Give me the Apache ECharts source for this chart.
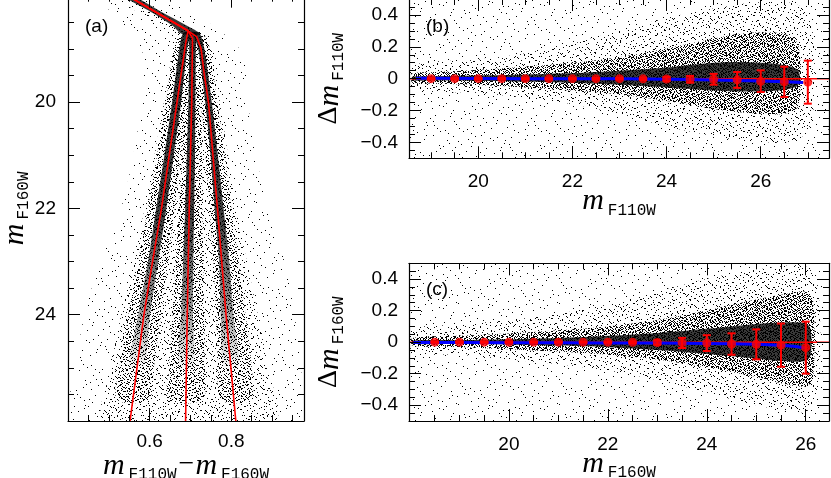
<!DOCTYPE html>
<html>
<head>
<meta charset="utf-8">
<script src="https://cdn.jsdelivr.net/npm/echarts@6/dist/echarts.min.js"></script>
<style>
html, body { margin: 0; padding: 0; background: #fff; }
#main { width: 831px; height: 478px; }
</style>
</head>
<body>
<div id="main"></div>
<script>
// ---------- panel (a): CMD ----------
// fiducial lines (colour, magnitude)
var fidLeftMag = [18.0, 18.66, 18.9, 20, 21, 22, 23, 24, 26];
var fidLeftCol = [0.546, 0.694, 0.688, 0.667, 0.648, 0.629, 0.607, 0.586, 0.552];
var fidMidMag = [18.0, 18.66, 18.8, 20, 22, 24, 26];
var fidMidCol = [0.546, 0.694, 0.705, 0.703, 0.697, 0.692, 0.688];
var fidRightMag = [18.0, 18.66, 18.77, 19, 19.5, 20, 22, 24, 26];
var fidRightCol = [0.546, 0.694, 0.715, 0.726, 0.734, 0.744, 0.766, 0.787, 0.811];

// star density envelopes (magnitude, blue edge, red edge)
var topMag = [18.0, 18.3, 18.55, 18.72];
var topLo = [0.534, 0.602, 0.654, 0.68];
var topHi = [0.558, 0.628, 0.688, 0.724];
var coreMag = [18.7, 19, 20, 21, 22, 23, 24, 25];
var coreLeftLo = [0.682, 0.673, 0.655, 0.636, 0.616, 0.596, 0.572, 0.55];
var coreLeftHi = [0.698, 0.692, 0.677, 0.659, 0.641, 0.621, 0.601, 0.585];
var coreMidLo = [0.697, 0.697, 0.695, 0.691, 0.687, 0.682, 0.677, 0.672];
var coreMidHi = [0.713, 0.713, 0.712, 0.711, 0.709, 0.707, 0.706, 0.707];
var coreRightLo = [0.708, 0.719, 0.736, 0.749, 0.759, 0.77, 0.774, 0.782];
var coreRightHi = [0.722, 0.734, 0.752, 0.767, 0.781, 0.795, 0.805, 0.818];
var wideMag = [18.8, 20, 21, 22, 23, 24, 25, 25.6];
var wideLeftLo = [0.668, 0.64, 0.618, 0.596, 0.572, 0.548, 0.526, 0.52];
var wideLeftHi = [0.704, 0.69, 0.676, 0.661, 0.645, 0.628, 0.61, 0.598];
var wideMidLo = [0.692, 0.686, 0.68, 0.672, 0.664, 0.656, 0.648, 0.645];
var wideMidHi = [0.722, 0.726, 0.728, 0.729, 0.731, 0.733, 0.735, 0.73];
var wideRightLo = [0.708, 0.726, 0.737, 0.747, 0.756, 0.763, 0.768, 0.772];
var wideRightHi = [0.74, 0.765, 0.784, 0.8, 0.818, 0.835, 0.85, 0.848];
var haloMag = [18.0, 18.4, 18.7, 19, 20, 21, 22, 23, 24, 25, 26];
var haloLo = [0.52, 0.588, 0.652, 0.655, 0.635, 0.612, 0.588, 0.56, 0.53, 0.505, 0.49];
var haloHi = [0.572, 0.645, 0.735, 0.752, 0.772, 0.792, 0.812, 0.838, 0.865, 0.89, 0.905];
var fieldMag = [18.0, 19, 20, 21, 22, 23, 24, 25, 26];
var fieldLo = [0.48, 0.58, 0.58, 0.56, 0.53, 0.48, 0.44, 0.42, 0.41];
var fieldHi = [0.62, 0.82, 0.84, 0.86, 0.89, 0.93, 0.955, 0.97, 0.975];

// ---------- panel (b): F110W residuals ----------
var bMag = [19, 19.5, 20, 20.5, 21, 21.5, 22, 22.5, 23, 23.5, 24, 24.5, 25, 25.5, 26, 26.5, 27];
var bMean = [0, 0, 0, 0, 0, 0, 0, 0, 0, -0.001, -0.002, -0.004, -0.004, -0.008, -0.016, -0.02, -0.022];
var bSig = [0.003, 0.003, 0.003, 0.003, 0.003, 0.003, 0.003, 0.004, 0.005, 0.007, 0.012, 0.021, 0.034, 0.05, 0.068, 0.095, 0.135];
var bFitMag = [18.68, 19, 20, 21, 22, 23, 24, 24.5, 25, 25.5, 26, 26.5, 26.9];
var bFitVal = [0.002, 0.002, 0.001, 0, 0, -0.001, -0.003, -0.005, -0.008, -0.011, -0.015, -0.02, -0.024];
var bCoreMag = [18.6, 19, 20, 21, 22, 23, 24, 24.5, 25, 25.5, 26, 26.5, 26.8];
var bCoreLo = [-0.01, -0.012, -0.015, -0.02, -0.027, -0.038, -0.055, -0.065, -0.075, -0.08, -0.08, -0.07, -0.04];
var bCoreHi = [0.012, 0.015, 0.02, 0.026, 0.035, 0.05, 0.07, 0.085, 0.1, 0.105, 0.1, 0.085, 0.05];
var bMidMag = [18.6, 19, 20, 21, 22, 23, 24, 25, 25.5, 26, 26.5, 26.8];
var bMidLo = [-0.025, -0.03, -0.04, -0.055, -0.075, -0.1, -0.14, -0.19, -0.21, -0.22, -0.22, -0.17];
var bMidHi = [0.03, 0.04, 0.055, 0.075, 0.1, 0.135, 0.19, 0.25, 0.28, 0.29, 0.28, 0.21];
var bLightMag = [18.6, 20, 21, 22, 23, 24, 25, 26, 26.8, 27.1];
var bLightLo = [-0.06, -0.09, -0.12, -0.16, -0.22, -0.3, -0.36, -0.4, -0.38, -0.25];
var bLightHi = [0.08, 0.12, 0.16, 0.22, 0.3, 0.38, 0.44, 0.48, 0.46, 0.3];
var bFieldMag = [18.6, 20, 22, 24, 26, 27.3];
var bFieldLo = [-0.5, -0.5, -0.5, -0.5, -0.5, -0.5];
var bFieldHi = [0.5, 0.5, 0.5, 0.5, 0.5, 0.5];

// ---------- panel (c): F160W residuals ----------
var cMag = [18.5, 19, 19.5, 20, 20.5, 21, 21.5, 22, 22.5, 23, 23.5, 24, 24.5, 25, 25.5, 26];
var cMean = [0, 0, 0, 0, 0, 0, 0, 0, -0.001, -0.002, -0.005, -0.006, -0.012, -0.014, -0.019, -0.035];
var cSig = [0.003, 0.003, 0.003, 0.003, 0.003, 0.003, 0.003, 0.004, 0.006, 0.014, 0.032, 0.05, 0.068, 0.095, 0.137, 0.165];
var cFitMag = [18.07, 19, 20, 21, 22, 23, 24, 24.5, 25, 25.5, 25.8, 26];
var cFitVal = [-0.002, -0.003, -0.004, -0.004, -0.005, -0.006, -0.008, -0.01, -0.014, -0.02, -0.028, -0.038];
var cCoreMag = [18.05, 19, 20, 21, 22, 23, 24, 24.5, 25, 25.5, 26, 26.1];
var cCoreLo = [-0.01, -0.012, -0.016, -0.022, -0.032, -0.05, -0.075, -0.09, -0.105, -0.12, -0.12, -0.08];
var cCoreHi = [0.01, 0.013, 0.018, 0.026, 0.04, 0.058, 0.085, 0.1, 0.115, 0.125, 0.12, 0.08];
var cMidMag = [18.05, 19, 20, 21, 22, 23, 24, 25, 25.5, 26, 26.15];
var cMidLo = [-0.022, -0.03, -0.045, -0.06, -0.08, -0.11, -0.16, -0.22, -0.26, -0.28, -0.23];
var cMidHi = [0.026, 0.04, 0.055, 0.075, 0.1, 0.14, 0.2, 0.27, 0.3, 0.32, 0.26];
var cLightMag = [18.05, 19, 20, 21, 22, 23, 24, 25, 26, 26.25];
var cLightLo = [-0.06, -0.08, -0.11, -0.14, -0.18, -0.24, -0.32, -0.4, -0.44, -0.3];
var cLightHi = [0.08, 0.11, 0.14, 0.18, 0.24, 0.32, 0.4, 0.46, 0.48, 0.35];
var cFieldMag = [18.05, 20, 22, 24, 26, 26.3];
var cFieldLo = [-0.5, -0.5, -0.5, -0.5, -0.5, -0.5];
var cFieldHi = [0.5, 0.5, 0.5, 0.5, 0.5, 0.5];

// ---------- ticks ----------
var aColMajor = [0.6, 0.8];
var aColMinor = [0.45, 0.5, 0.55, 0.65, 0.7, 0.75, 0.85, 0.9, 0.95];
var aMagMajor = [20, 22, 24];
var aMagMinor = [18.5, 19, 19.5, 20.5, 21, 21.5, 22.5, 23, 23.5, 24.5, 25, 25.5];
var bMagMajor = [20, 22, 24, 26];
var bMagMinor = [19, 19.5, 20.5, 21, 21.5, 22.5, 23, 23.5, 24.5, 25, 25.5, 26.5, 27];
var cMagMajor = [20, 22, 24, 26];
var cMagMinor = [18.5, 19, 19.5, 20.5, 21, 21.5, 22.5, 23, 23.5, 24.5, 25, 25.5, 26.5];
var dMajor = [-0.4, -0.2, 0, 0.2, 0.4];
var dMinor = [-0.45, -0.35, -0.3, -0.25, -0.15, -0.1, -0.05, 0.05, 0.1, 0.15, 0.25, 0.3, 0.35, 0.45];

var rich = {
    m: { fontFamily: 'Liberation Serif', fontStyle: 'italic', fontSize: 30, color: '#000', lineHeight: 30, verticalAlign: 'top' },
    d: { fontFamily: 'Liberation Serif', fontSize: 28, color: '#000', lineHeight: 30, verticalAlign: 'top' },
    s: { fontFamily: 'Liberation Mono', fontSize: 16, color: '#000', lineHeight: 16, padding: [16, 0, 0, 4], verticalAlign: 'top' },
    o: { fontFamily: 'Liberation Serif', fontSize: 28, color: '#000', lineHeight: 30, padding: [0, 1, 0, 2], verticalAlign: 'top' }
};

function fmt(v) {
    return String(v).replace('-', '\u2212');
}

function halton(i, b) {
    var f = 1, r = 0;
    while (i > 0) {
        f /= b;
        r += f * (i % b);
        i = Math.floor(i / b);
    }
    return r;
}

// stippled fill that looks like a cloud of single-pixel stars
function stipple(count, seed, size) {
    var c = document.createElement('canvas');
    c.width = size;
    c.height = size;
    var g = c.getContext('2d');
    g.fillStyle = '#000';
    for (var i = seed; i < seed + count; i++) {
        g.fillRect(Math.floor(halton(i, 2) * size), Math.floor(halton(i, 3) * size), 1, 1);
    }
    return { image: c, repeat: 'repeat' };
}

// four axes per dimension: main ticks + minor ticks, on both sides
function axisSet(dim, grid, min, max, major, minor, o) {
    var sides = dim === 'x' ? ['bottom', 'top'] : ['left', 'right'];
    var list = [];
    sides.forEach(function (side, k) {
        [major, minor].forEach(function (vals, j) {
            var main = k === 0 && j === 0;
            list.push({
                type: 'value', gridIndex: grid, min: min, max: max, position: side,
                inverse: !!o.inverse, z: 10,
                axisLine: { show: j === 0, onZero: false, lineStyle: { color: '#000', width: 1.2 } },
                axisTick: { show: true, inside: true, length: j === 0 ? 12 : 6, customValues: vals,
                    lineStyle: { color: '#000', width: 1 } },
                axisLabel: main ? { show: true, customValues: major, formatter: fmt, margin: o.margin,
                    fontFamily: 'Liberation Sans', fontSize: 19, color: '#000' } : { show: false },
                splitLine: { show: false },
                name: main ? o.name : '',
                nameLocation: 'middle', nameGap: o.nameGap, nameRotate: dim === 'y' ? 90 : 0,
                nameMoveOverlap: false,
                nameTextStyle: { rich: rich }
            });
        });
    });
    return list;
}

function pairs(xs, ys) {
    return xs.map(function (x, i) { return [x, ys[i]]; });
}

// filled envelope drawn through the axes; swap = true when the band runs along y
function band(ax, xs, lo, hi, fill, swap) {
    return {
        type: 'custom', xAxisIndex: ax, yAxisIndex: ax, silent: true, z: 1,
        data: xs.map(function (x, i) { return [x, lo[i], hi[i]]; }),
        renderItem: function (params, api) {
            if (params.dataIndex !== 0) return null;
            var pts = [];
            var i;
            for (i = 0; i < xs.length; i++) {
                pts.push(api.coord(swap ? [hi[i], xs[i]] : [xs[i], hi[i]]));
            }
            for (i = xs.length - 1; i >= 0; i--) {
                pts.push(api.coord(swap ? [lo[i], xs[i]] : [xs[i], lo[i]]));
            }
            return { type: 'polygon', shape: { points: pts, smooth: 0.3 }, style: { fill: fill } };
        },
        clip: true
    };
}

function errBars(ax, xs, mean, sig) {
    return {
        type: 'custom', xAxisIndex: ax, yAxisIndex: ax, silent: true, z: 5,
        data: xs.map(function (x, i) { return [x, mean[i], sig[i]]; }),
        renderItem: function (params, api) {
            var x = api.value(0), m = api.value(1), s = api.value(2);
            var top = api.coord([x, m + s]);
            var bot = api.coord([x, m - s]);
            var st = { stroke: '#ff0000', lineWidth: 2 };
            return {
                type: 'group',
                children: [
                    { type: 'line', shape: { x1: top[0], y1: top[1], x2: bot[0], y2: bot[1] }, style: st },
                    { type: 'line', shape: { x1: top[0] - 4, y1: top[1], x2: top[0] + 4, y2: top[1] }, style: st },
                    { type: 'line', shape: { x1: bot[0] - 4, y1: bot[1], x2: bot[0] + 4, y2: bot[1] }, style: st }
                ]
            };
        }
    };
}

function lineS(ax, data, color, width, z) {
    return {
        type: 'line', xAxisIndex: ax, yAxisIndex: ax, data: data, showSymbol: false, silent: true,
        lineStyle: { color: color, width: width }, z: z, animation: false
    };
}

function points(ax, xs, ys) {
    return {
        type: 'scatter', xAxisIndex: ax, yAxisIndex: ax, data: pairs(xs, ys), symbol: 'circle',
        symbolSize: 9, itemStyle: { color: '#ff0000' }, z: 6, silent: true
    };
}

var faint = stipple(200, 17, 101);
var light = stipple(700, 5003, 101);
var medium = stipple(1900, 20011, 101);
var heavy = stipple(3600, 60013, 101);
var dense = 'rgba(0,0,0,0.78)';
// sequence cores fade out towards the faint end
var fading = {
    type: 'linear', x: 0, y: 0, x2: 0, y2: 1,
    colorStops: [
        { offset: 0, color: 'rgba(0,0,0,0.8)' },
        { offset: 0.55, color: 'rgba(0,0,0,0.75)' },
        { offset: 0.82, color: 'rgba(0,0,0,0.4)' },
        { offset: 1, color: 'rgba(0,0,0,0)' }
    ]
};

var xAxes = [].concat(
    axisSet('x', 0, 0.4, 0.978, aColMajor, aColMinor,
        { margin: 11, nameGap: 30, name: '{m|m}{s|F110W}{o|\u2212}{m|m}{s|F160W}' }),
    axisSet('x', 1, 18.53, 27.45, bMagMajor, bMagMinor,
        { margin: 14, nameGap: 28, name: '{m|m}{s|F110W}' }),
    axisSet('x', 2, 17.98, 26.47, cMagMajor, cMagMinor,
        { margin: 14, nameGap: 28, name: '{m|m}{s|F160W}' })
);
var yAxes = [].concat(
    axisSet('y', 0, 18, 26, aMagMajor, aMagMinor,
        { inverse: true, margin: 12, nameGap: 38, name: '{m|m}{s|F160W}' }),
    axisSet('y', 1, -0.5, 0.5, dMajor, dMinor,
        { margin: 11, nameGap: 64, name: '{d|\u0394}{m|m}{s|F110W}' }),
    axisSet('y', 2, -0.5, 0.5, dMajor, dMinor,
        { margin: 11, nameGap: 64, name: '{d|\u0394}{m|m}{s|F160W}' })
);

var labelStyle = { fontFamily: 'Liberation Sans', fontSize: 19, fontWeight: 'normal', color: '#000' };

var option = {
    animation: false,
    backgroundColor: '#fff',
    grid: [
        { left: 68, top: -4.3, width: 236, height: 425.3, outerBoundsMode: 'none', containLabel: false },
        { left: 409, top: -1, width: 420, height: 159.3, outerBoundsMode: 'none', containLabel: false },
        { left: 409, top: 263.3, width: 420, height: 157.7, outerBoundsMode: 'none', containLabel: false }
    ],
    title: [
        { text: '(a)', left: 80, top: 12, textStyle: labelStyle },
        { text: '(b)', left: 421, top: 12, textStyle: labelStyle },
        { text: '(c)', left: 421, top: 275, textStyle: labelStyle }
    ],
    xAxis: xAxes,
    yAxis: yAxes,
    series: [
        // panel a
        band(0, fieldMag, fieldLo, fieldHi, faint, true),
        band(0, haloMag, haloLo, haloHi, light, true),
        band(0, wideMag, wideLeftLo, wideLeftHi, medium, true),
        band(0, wideMag, wideMidLo, wideMidHi, medium, true),
        band(0, wideMag, wideRightLo, wideRightHi, medium, true),
        band(0, topMag, topLo, topHi, dense, true),
        band(0, coreMag, coreLeftLo, coreLeftHi, fading, true),
        band(0, coreMag, coreMidLo, coreMidHi, fading, true),
        band(0, coreMag, coreRightLo, coreRightHi, fading, true),
        lineS(0, pairs(fidLeftCol, fidLeftMag), '#ff0000', 1.6, 4),
        lineS(0, pairs(fidMidCol, fidMidMag), '#ff0000', 1.6, 4),
        lineS(0, pairs(fidRightCol, fidRightMag), '#ff0000', 1.6, 4),
        // panel b
        band(4, bFieldMag, bFieldLo, bFieldHi, faint),
        band(4, bLightMag, bLightLo, bLightHi, light),
        band(4, bMidMag, bMidLo, bMidHi, heavy),
        band(4, bCoreMag, bCoreLo, bCoreHi, dense),
        lineS(4, [[18.53, 0], [27.45, 0]], '#ff0000', 1.5, 3),
        lineS(4, pairs(bFitMag, bFitVal), '#0000ff', 3, 4),
        errBars(4, bMag, bMean, bSig),
        points(4, bMag, bMean),
        // panel c
        band(8, cFieldMag, cFieldLo, cFieldHi, faint),
        band(8, cLightMag, cLightLo, cLightHi, light),
        band(8, cMidMag, cMidLo, cMidHi, heavy),
        band(8, cCoreMag, cCoreLo, cCoreHi, dense),
        lineS(8, [[17.98, 0], [26.47, 0]], '#ff0000', 1.5, 3),
        lineS(8, pairs(cFitMag, cFitVal), '#0000ff', 3, 4),
        errBars(8, cMag, cMean, cSig),
        points(8, cMag, cMean)
    ]
};

var chart = echarts.init(document.getElementById('main'));
chart.setOption(option);
</script>
</body>
</html>
